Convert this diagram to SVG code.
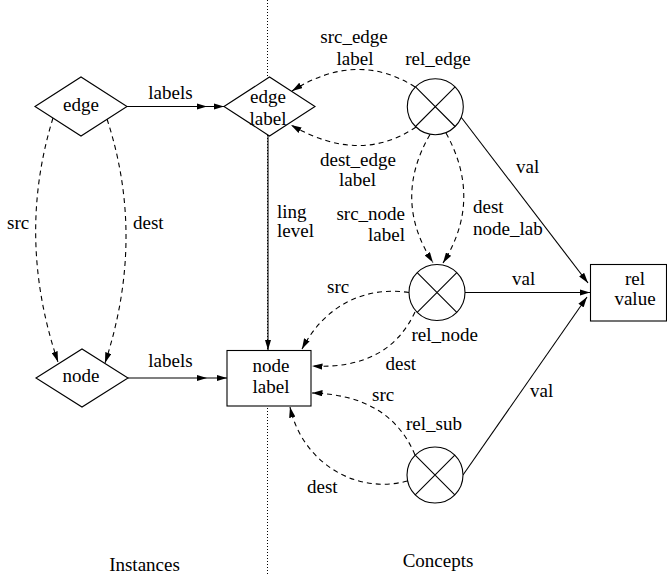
<svg xmlns="http://www.w3.org/2000/svg" width="667" height="575" viewBox="0 0 667 575">
  <style>
    text { font-family: 'Liberation Serif', 'Times New Roman', Times, 'DejaVu Serif', serif; font-size: 19px; fill: #000; }
    .mid { text-anchor: middle; }
    .end { text-anchor: end; }
    .shape { fill: #fff; stroke: #000; stroke-width: 1.1; }
    .xline { fill: none; stroke: #000; stroke-width: 1.1; }
    .solid { fill: none; stroke: #000; stroke-width: 1.1; marker-end: url(#head); }
    .dashed { fill: none; stroke: #000; stroke-width: 1.1; stroke-dasharray: 5 4; marker-end: url(#head); }
    .double { marker-mid: url(#head); }
    .divider { fill: none; stroke: #000; stroke-width: 1; stroke-dasharray: 1 2; }
  </style>
  <defs>
    <marker id="head" viewBox="0 0 10 6" refX="10" refY="3" markerWidth="10.5" markerHeight="6.5" markerUnits="userSpaceOnUse" orient="auto">
      <path d="M0,0 L10,3 L0,6 z" fill="#000" stroke="none"/>
    </marker>
  </defs>

  <rect width="667" height="575" fill="#fff"/>

  <!-- dotted divider between instances and concepts -->
  <line class="divider" x1="267.5" y1="0" x2="267.5" y2="575"/>

  <g id="connectors">
    <!-- instance side -->
    <path class="solid double" d="M127,106.5 H207 H224"/>
    <path class="solid double" d="M128,378 H207 H227"/>
    <path class="dashed" d="M53,118 Q16,238 58,362"/>
    <path class="dashed" d="M107,119 Q146,238 105,363"/>
    <path class="solid" d="M268,136 V350"/>
    <!-- rel_edge -->
    <path class="dashed" d="M415,87 Q357,50 292,91"/>
    <path class="dashed" d="M416,127 Q360,165 291,125"/>
    <path class="dashed" d="M430,134.5 Q392,200 433,262.5"/>
    <path class="dashed" d="M446,133 Q483,200 443,263"/>
    <path class="solid" d="M461,117 L588,283"/>
    <!-- rel_node -->
    <path class="dashed" d="M409,292.5 C365,286 325,305 302,349"/>
    <path class="dashed" d="M415,312 Q388,370 312,366"/>
    <path class="solid" d="M465,292.5 H590"/>
    <!-- rel_sub -->
    <path class="dashed" d="M415,455 Q390,395 312,393"/>
    <path class="dashed" d="M407.5,481 C355,495 302,462 290,407"/>
    <path class="solid" d="M463,475 L587,297"/>
  </g>

  <g id="edge">
    <polygon class="shape" points="35,106.5 81,77 127,106.5 81,136"/>
    <text class="mid" x="81" y="110.5">edge</text>
  </g>

  <g id="edge-label">
    <polygon class="shape" points="224,106.5 269.5,77 315,106.5 269.5,136"/>
    <text class="mid" x="268" y="103">edge</text>
    <text class="mid" x="268" y="125">label</text>
  </g>

  <g id="node">
    <polygon class="shape" points="36,378 82,349 128,378 82,407"/>
    <text class="mid" x="81" y="381.5">node</text>
  </g>

  <g id="node-label">
    <rect class="shape" x="227" y="350.5" width="84" height="55.5"/>
    <text class="mid" x="271" y="371.5">node</text>
    <text class="mid" x="271" y="393">label</text>
  </g>

  <g id="rel-edge">
    <circle class="shape" cx="435.3" cy="106.7" r="28"/>
    <path class="xline" d="M415.5,86.9 L455.1,126.5 M455.1,86.9 L415.5,126.5"/>
  </g>

  <g id="rel-node">
    <circle class="shape" cx="437" cy="292.5" r="28"/>
    <path class="xline" d="M417.2,272.7 L456.8,312.3 M456.8,272.7 L417.2,312.3"/>
  </g>

  <g id="rel-sub">
    <circle class="shape" cx="435" cy="475" r="28"/>
    <path class="xline" d="M415.2,455.2 L454.8,494.8 M454.8,455.2 L415.2,494.8"/>
  </g>

  <g id="rel-value">
    <rect class="shape" x="590.5" y="264.5" width="76" height="56.5"/>
    <text class="mid" x="635" y="285">rel</text>
    <text class="mid" x="635" y="305">value</text>
  </g>

  <g id="labels">
    <text class="mid" x="170.5" y="99">labels</text>
    <text class="mid" x="170.5" y="366.5">labels</text>
    <text x="7" y="228.5">src</text>
    <text x="133" y="228.5">dest</text>
    <text x="277" y="217.5">ling</text>
    <text x="277" y="237">level</text>
    <text class="mid" x="354" y="42.5">src_edge</text>
    <text class="mid" x="355" y="65">label</text>
    <text class="mid" x="438" y="65">rel_edge</text>
    <text class="mid" x="358" y="165.5">dest_edge</text>
    <text class="mid" x="357.5" y="186">label</text>
    <text class="end" x="405" y="220">src_node</text>
    <text class="end" x="405" y="241">label</text>
    <text x="473" y="212.5">dest</text>
    <text x="473" y="235">node_lab</text>
    <text x="516" y="173">val</text>
    <text x="512" y="285">val</text>
    <text x="530" y="397">val</text>
    <text x="327" y="293">src</text>
    <text x="411.5" y="341">rel_node</text>
    <text x="385.5" y="370">dest</text>
    <text x="372" y="400.5">src</text>
    <text x="406" y="430">rel_sub</text>
    <text x="307" y="492.5">dest</text>
    <text class="mid" x="144.5" y="570.5">Instances</text>
    <text class="mid" x="438" y="567">Concepts</text>
  </g>
</svg>
